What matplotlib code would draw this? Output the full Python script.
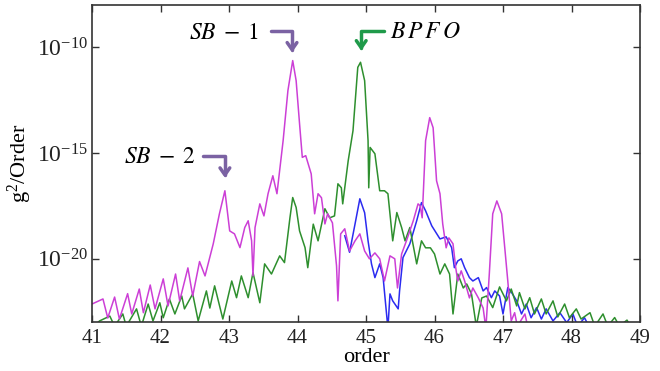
import numpy as np
import matplotlib
matplotlib.use('agg')
from matplotlib import pyplot as plt
from matplotlib import ticker

# magenta trace: order, log10(g^2/Order)
m_x = [41.00, 41.16, 41.23, 41.33, 41.40, 41.52, 41.58, 41.69, 41.75, 41.85, 41.92,
       42.04, 42.11, 42.22, 42.28, 42.40, 42.47, 42.57, 42.65, 42.77, 42.86, 42.94,
       43.01, 43.08, 43.16, 43.23, 43.28, 43.33, 43.35, 43.38, 43.45, 43.51, 43.57,
       43.64, 43.70, 43.79, 43.86, 43.93, 43.98, 44.03, 44.07, 44.12, 44.20, 44.25,
       44.30, 44.35, 44.40, 44.44, 44.51, 44.57, 44.59, 44.63, 44.69, 44.76, 44.84,
       44.91, 44.98, 45.05, 45.13, 45.20, 45.27, 45.35, 45.42, 45.46, 45.52, 45.59,
       45.69, 45.76, 45.79, 45.82, 45.84, 45.87, 45.93, 45.98, 46.03, 46.08, 46.12,
       46.17, 46.21, 46.27, 46.31, 46.34, 46.39, 46.44, 46.51, 46.56, 46.64, 46.71,
       46.75, 46.80, 46.85, 46.91, 46.98, 47.03, 47.07, 47.12, 47.17, 47.21, 47.32,
       47.36, 47.40]
m_exp = [-22.15, -21.91, -22.81, -21.82, -22.86, -21.66, -22.62, -21.44, -22.56, -21.25, -22.38,
         -20.96, -22.24, -20.73, -22.00, -20.44, -21.77, -20.14, -20.82, -19.30, -17.88, -16.79,
         -18.69, -18.83, -19.48, -18.53, -18.21, -19.16, -20.82, -18.53, -17.41, -17.98, -16.93,
         -16.08, -16.93, -14.42, -12.05, -10.63, -11.58, -13.62, -15.21, -15.13, -15.99, -17.88,
         -16.93, -17.12, -18.36, -17.88, -18.31, -20.35, -22.00, -18.83, -18.59, -19.64, -19.16,
         -18.83, -19.64, -20.01, -19.73, -20.01, -21.06, -19.87, -20.01, -21.39, -19.78, -19.16,
         -18.21, -17.41, -17.50, -18.07, -16.65, -14.42, -13.33, -13.81, -16.32, -16.93, -18.36,
         -19.49, -19.02, -19.30, -20.44, -21.06, -20.58, -21.06, -21.86, -21.39, -21.86, -22.34,
         -23.30, -20.73, -17.88, -17.27, -17.88, -19.64, -21.06, -22.95, -22.56, -23.20, -22.62,
         -23.20, -23.60]

# green trace
g_x = [41.00, 41.11, 41.26, 41.33, 41.45, 41.50, 41.65, 41.72, 41.82, 41.89, 41.99,
       42.04, 42.13, 42.21, 42.31, 42.35, 42.47, 42.55, 42.67, 42.72, 42.79, 42.91,
       43.04, 43.11, 43.18, 43.28, 43.35, 43.45, 43.52, 43.62, 43.74, 43.81, 43.89,
       43.93, 43.98, 44.03, 44.11, 44.15, 44.23, 44.30, 44.40, 44.47, 44.54, 44.59,
       44.64, 44.66, 44.74, 44.81, 44.88, 44.92, 44.98, 45.03, 45.04, 45.06, 45.13,
       45.20, 45.27, 45.32, 45.39, 45.45, 45.52, 45.57, 45.64, 45.74, 45.81, 45.87,
       45.94, 46.00, 46.08, 46.15, 46.22, 46.27, 46.34, 46.42, 46.47, 46.54, 46.61,
       46.69, 46.76, 46.85, 46.95, 47.05, 47.12, 47.20, 47.24, 47.32, 47.39, 47.46,
       47.56, 47.63, 47.73, 47.80, 47.90, 47.97, 48.07, 48.14, 48.27, 48.34, 48.46,
       48.53, 48.63, 48.70, 48.81, 48.88]
g_exp = [-23.30, -22.95, -22.72, -23.20, -22.62, -23.20, -22.38, -23.20, -22.15, -22.95, -22.09,
         -22.80, -21.91, -22.62, -21.77, -22.38, -21.67, -22.95, -21.53, -22.34, -21.29, -22.86,
         -21.06, -21.85, -20.82, -21.85, -20.66, -22.09, -20.25, -20.73, -19.87, -20.19, -18.06,
         -17.11, -17.58, -18.69, -19.48, -20.43, -18.37, -19.16, -17.64, -18.07, -17.98, -16.46,
         -16.65, -17.41, -15.37, -13.95, -10.95, -10.71, -11.58, -14.42, -16.65, -14.74, -15.04,
         -16.79, -16.79, -16.93, -19.16, -17.82, -18.53, -19.16, -18.53, -20.25, -19.16, -19.49,
         -19.49, -19.78, -20.73, -20.25, -20.73, -22.62, -20.73, -21.39, -21.20, -21.67, -23.20,
         -21.86, -21.77, -22.32, -21.34, -22.00, -21.44, -22.24, -21.61, -22.38, -21.85, -22.62,
         -21.91, -22.62, -22.00, -22.76, -22.15, -22.80, -22.38, -22.86, -22.56, -23.20, -22.62,
         -23.20, -22.79, -23.20, -22.91, -23.30]

# blue trace
b_x = [44.69, 44.76, 44.84, 44.91, 44.98, 45.03, 45.08, 45.13, 45.20, 45.25, 45.30,
       45.32, 45.35, 45.39, 45.47, 45.49, 45.54, 45.64, 45.74, 45.81, 45.87, 45.96,
       46.08, 46.17, 46.25, 46.29, 46.34, 46.39, 46.44, 46.51, 46.56, 46.64, 46.71,
       46.76, 46.83, 46.88, 46.95, 47.00, 47.07, 47.13, 47.20, 47.27, 47.34, 47.41,
       47.49, 47.56, 47.63, 47.73, 47.83, 47.93, 48.02, 48.09, 48.19, 48.27]
b_exp = [-18.92, -19.70, -18.36, -17.17, -17.83, -19.16, -20.25, -20.90, -20.25, -20.90, -22.62,
         -23.30, -21.67, -22.00, -22.38, -21.53, -19.95, -19.30, -18.21, -17.35, -17.74, -18.45,
         -19.07, -18.97, -19.48, -20.43, -20.11, -20.01, -20.43, -20.90, -21.06, -20.90, -21.53,
         -21.37, -21.85, -21.53, -21.77, -22.62, -21.37, -21.63, -22.00, -22.62, -22.15, -22.80,
         -22.32, -22.86, -22.38, -22.95, -22.56, -23.03, -22.62, -23.20, -22.80, -23.30]

plt.rcParams['font.family'] = 'Liberation Serif'
plt.rcParams['mathtext.fontset'] = 'custom'
plt.rcParams['mathtext.rm'] = 'Liberation Serif'
plt.rcParams['mathtext.it'] = 'Liberation Serif:italic'

fig = plt.figure(figsize=(6.6, 3.71), dpi=100)
ax = fig.add_axes([0.1394, 0.1321, 0.8303, 0.8544])

ax.plot(b_x, 10.0 ** np.array(b_exp), color='#2b2bf0', lw=1.1)
ax.plot(g_x, 10.0 ** np.array(g_exp), color='#2e8f2e', lw=1.1)
ax.plot(m_x, 10.0 ** np.array(m_exp), color='#cc3fd6', lw=1.1)

ax.set_yscale('log')
ax.set_xlim(41, 49)
ax.set_ylim(1e-23, 1e-8)
ax.set_xticks(range(41, 50))
ax.set_yticks([1e-20, 1e-15, 1e-10])
ax.yaxis.set_minor_locator(ticker.NullLocator())
ax.set_yticklabels(['10$^{\\mathrm{-20}}$', '10$^{\\mathrm{-15}}$', '10$^{\\mathrm{-10}}$'])
ax.tick_params(direction='in', top=True, right=True, length=5, width=1,
               colors='#333333', labelcolor='#222222')
ax.tick_params(axis='x', labelsize=15, pad=5)
ax.tick_params(axis='y', labelsize=17, pad=3)
for s in ax.spines.values():
    s.set_color('#333333')
    s.set_linewidth(1.2)

ax.set_xlabel('order', fontsize=16, labelpad=0)
ax.set_ylabel('g$^{\\mathrm{2}}$/Order', fontsize=16)
ax.yaxis.set_label_coords(-0.106, 0.5)

purple = '#7b62a3'
green = '#1f9a4a'
ap = dict(arrowstyle='->,head_length=0.5,head_width=0.35', lw=2.5,
          connectionstyle='angle,angleA=0,angleB=90,rad=0', shrinkA=0, shrinkB=0)

ax.annotate('', xy=(43.92, 10 ** -10.25), xytext=(43.62, 10 ** -9.21),
            arrowprops=dict(ap, color=purple))
ax.text(42.92, 10 ** -9.35, '$SB\\;-\\;1$', ha='center', va='center', fontsize=17,
        math_fontfamily='stix')

ax.annotate('', xy=(42.94, 10 ** -16.18), xytext=(42.62, 10 ** -15.13),
            arrowprops=dict(ap, color=purple))
ax.text(41.99, 10 ** -15.23, '$SB\\;-\\;2$', ha='center', va='center', fontsize=17,
        math_fontfamily='stix')

ax.annotate('', xy=(44.93, 10 ** -10.16), xytext=(45.26, 10 ** -9.21),
            arrowprops=dict(ap, color=green))
ax.text(45.86, 10 ** -9.3, '$B\\,P\\,F\\,O$', ha='center', va='center', fontsize=17,
        math_fontfamily='stix')

plt.savefig('out.png', dpi=100)
